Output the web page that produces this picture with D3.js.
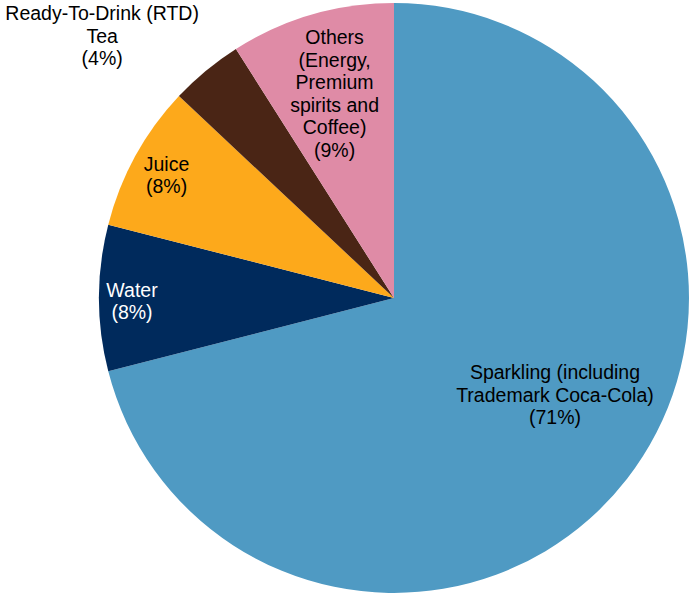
<!DOCTYPE html>
<html>
<head>
<meta charset="utf-8">
<script src="https://cdn.jsdelivr.net/npm/d3@7"></script>
<style>
  body { margin: 0; background: #fff; }
</style>
</head>
<body>
<div id="chart"></div>
<script>
// slices, clockwise from 12 o'clock
const categories = ["Sparkling", "Water", "Juice", "RTD Tea", "Others"];
const values = [71, 8, 8, 4, 9];
const labelLines = [
    ["Sparkling (including", "Trademark Coca-Cola)", "(71%)"],
    ["Water", "(8%)"],
    ["Juice", "(8%)"],
    ["Ready-To-Drink (RTD)", "Tea", "(4%)"],
    ["Others", "(Energy,", "Premium", "spirits and", "Coffee)", "(9%)"]
];
const colors = ["#4f9ac3", "#002a5c", "#fda91b", "#4a2515", "#df8ba6"];
const textColors = ["#000", "#fff", "#000", "#000", "#000"];

const width = 691, height = 596;
const cx = 394, cy = 298, radius = 295;
const fontSize = 19.5, lineH = 22.5;

// where each label sits: radius for the centroid plus a nudge
const labelRadius = [186, 262, 255, 392, 213];
const labelNudge = [[14, -17], [0, 3], [-4, 0], [-42, 40], [0, 0]];

const svg = d3.select("#chart")
    .append("svg")
    .attr("width", width)
    .attr("height", height)
    .append("g")
    .attr("transform", `translate(${cx},${cy})`);

const pie = d3.pie().sort(null).value(d => d);
const arcs = pie(values);

const arc = d3.arc().innerRadius(0).outerRadius(radius);

svg.selectAll(".slice")
    .data(arcs)
    .join("path")
    .attr("class", "slice")
    .attr("fill", (d, i) => colors[i])
    .attr("d", arc);

// labels
const labels = svg.selectAll(".label")
    .data(arcs)
    .join("text")
    .attr("class", "label")
    .attr("font-family", "Liberation Sans, Arial, sans-serif")
    .attr("font-size", fontSize)
    .attr("text-anchor", "middle")
    .attr("fill", (d, i) => textColors[i])
    .attr("transform", (d, i) => {
        const a = d3.arc().innerRadius(labelRadius[i]).outerRadius(labelRadius[i]);
        const c = a.centroid(d);
        return `translate(${c[0] + labelNudge[i][0]},${c[1] + labelNudge[i][1]})`;
    });

labels.each(function(d, i) {
    const lines = labelLines[i];
    const t = d3.select(this);
    const top = -(lines.length - 1) * lineH / 2;
    lines.forEach((s, j) => {
        t.append("tspan")
            .attr("x", 0)
            .attr("y", top + j * lineH)
            .attr("dy", "0.35em")
            .text(s);
    });
});
</script>
</body>
</html>
